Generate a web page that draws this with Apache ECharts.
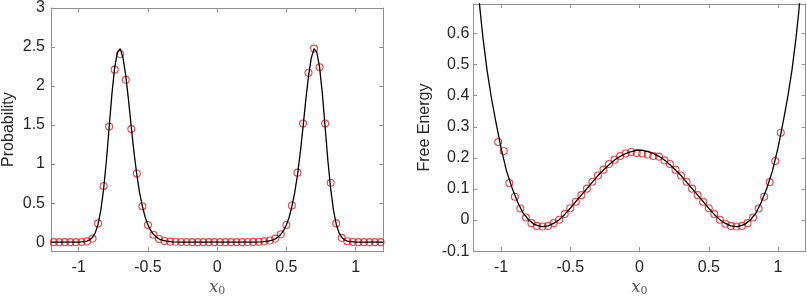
<!DOCTYPE html>
<html>
<head>
<meta charset="utf-8">
<script src="https://cdn.jsdelivr.net/npm/echarts@6/dist/echarts.min.js"></script>
<style>
  html, body { margin: 0; padding: 0; background: #fff; }
  #chart { width: 807px; height: 302px; }
</style>
</head>
<body>
<div id="chart"></div>
<script>
// sampled points (bin centres) for the probability histogram
var probX = [
  -1.18, -1.14, -1.10, -1.06, -1.02, -0.98, -0.94, -0.90, -0.86, -0.82,
  -0.78, -0.74, -0.70, -0.66, -0.62, -0.58, -0.54, -0.50, -0.46, -0.42,
  -0.38, -0.34, -0.30, -0.26, -0.22, -0.18, -0.14, -0.10, -0.06, -0.02,
  0.02, 0.06, 0.10, 0.14, 0.18, 0.22, 0.26, 0.30, 0.34, 0.38,
  0.42, 0.46, 0.50, 0.54, 0.58, 0.62, 0.66, 0.70, 0.74, 0.78,
  0.82, 0.86, 0.90, 0.94, 0.98, 1.02, 1.06, 1.10, 1.14, 1.18
];
var probY = [
  0, 0, 0, 0, 0, 0.002, 0.01, 0.045, 0.24, 0.72,
  1.48, 2.21, 2.41, 2.08, 1.45, 0.88, 0.46, 0.22, 0.095, 0.04,
  0.015, 0.007, 0.004, 0.002, 0.001, 0, 0, 0, 0, 0,
  0, 0, 0, 0, 0, 0.001, 0.003, 0.005, 0.01, 0.02,
  0.045, 0.10, 0.22, 0.47, 0.89, 1.52, 2.17, 2.48, 2.24, 1.52,
  0.76, 0.24, 0.055, 0.012, 0.002, 0, 0, 0, 0, 0
];

// theoretical probability curve
var probLineX = [
  -1.20, -1.00, -0.96, -0.94, -0.92, -0.90, -0.88, -0.86, -0.84, -0.82,
  -0.80, -0.78, -0.76, -0.74, -0.72, -0.70, -0.68, -0.66, -0.64, -0.62,
  -0.60, -0.58, -0.56, -0.54, -0.52, -0.50, -0.48, -0.46, -0.44, -0.42,
  -0.40, -0.36, -0.32, -0.26, 0,
  0.26, 0.32, 0.36, 0.40, 0.42, 0.44, 0.46, 0.48, 0.50, 0.52,
  0.54, 0.56, 0.58, 0.60, 0.62, 0.64, 0.66, 0.68, 0.70, 0.72,
  0.74, 0.76, 0.78, 0.80, 0.82, 0.84, 0.86, 0.88, 0.90, 0.92,
  0.94, 0.96, 1.00, 1.20
];
var probLineY = [
  0, 0.001, 0.006, 0.013, 0.03, 0.06, 0.12, 0.23, 0.41, 0.68,
  1.04, 1.47, 1.90, 2.24, 2.43, 2.48, 2.36, 2.13, 1.82, 1.47,
  1.14, 0.86, 0.63, 0.46, 0.32, 0.22, 0.15, 0.10, 0.065, 0.042,
  0.027, 0.011, 0.004, 0.001, 0,
  0.001, 0.004, 0.011, 0.027, 0.042, 0.065, 0.10, 0.15, 0.22, 0.32,
  0.46, 0.63, 0.86, 1.14, 1.47, 1.82, 2.13, 2.36, 2.48, 2.43,
  2.24, 1.90, 1.47, 1.04, 0.68, 0.41, 0.23, 0.12, 0.06, 0.03,
  0.013, 0.006, 0.001, 0
];

// sampled free energy
var feX = [
  -1.02, -0.98, -0.94, -0.90, -0.86, -0.82, -0.78, -0.74, -0.70, -0.66,
  -0.62, -0.58, -0.54, -0.50, -0.46, -0.42, -0.38, -0.34, -0.30, -0.26,
  -0.22, -0.18, -0.14, -0.10, -0.06, -0.02,
  0.02, 0.06, 0.10, 0.14, 0.18, 0.22, 0.26, 0.30, 0.34, 0.38,
  0.42, 0.46, 0.50, 0.54, 0.58, 0.62, 0.66, 0.70, 0.74, 0.78,
  0.82, 0.86, 0.90, 0.94, 0.98, 1.02
];
var feY = [
  0.251, 0.222, 0.119, 0.075, 0.037, 0.008, -0.010, -0.019, -0.021, -0.019,
  -0.010, 0.001, 0.019, 0.038, 0.059, 0.080, 0.101, 0.123, 0.143, 0.162,
  0.180, 0.194, 0.206, 0.214, 0.219, 0.216,
  0.214, 0.211, 0.206, 0.204, 0.192, 0.180, 0.162, 0.143, 0.123, 0.101,
  0.080, 0.059, 0.038, 0.019, 0.001, -0.012, -0.019, -0.021, -0.019, -0.010,
  0.008, 0.037, 0.075, 0.122, 0.190, 0.281
];

// theoretical free energy curve
var feLineX = [
  -1.17, -1.15, -1.13, -1.10, -1.07, -1.04, -1.00, -0.96, -0.92, -0.88,
  -0.84, -0.80, -0.76, -0.72, -0.70, -0.66, -0.62, -0.58, -0.54, -0.50,
  -0.46, -0.42, -0.38, -0.34, -0.30, -0.26, -0.22, -0.18, -0.14, -0.10,
  -0.06, -0.02, 0,
  0.02, 0.06, 0.10, 0.14, 0.18, 0.22, 0.26, 0.30, 0.34, 0.38,
  0.42, 0.46, 0.50, 0.54, 0.58, 0.62, 0.66, 0.70, 0.72, 0.76,
  0.80, 0.84, 0.88, 0.92, 0.96, 1.00, 1.04, 1.07, 1.10, 1.13,
  1.15, 1.17
];
var feLineY = [
  0.77, 0.67, 0.585, 0.48, 0.395, 0.322, 0.232, 0.158, 0.103, 0.058,
  0.022, 0.000, -0.014, -0.020, -0.021, -0.019, -0.011, 0.001, 0.018, 0.038,
  0.059, 0.080, 0.101, 0.122, 0.143, 0.161, 0.178, 0.193, 0.205, 0.214,
  0.220, 0.224, 0.225,
  0.224, 0.220, 0.214, 0.205, 0.193, 0.178, 0.161, 0.143, 0.122, 0.101,
  0.080, 0.059, 0.038, 0.018, 0.001, -0.011, -0.019, -0.021, -0.020, -0.014,
  0.000, 0.022, 0.058, 0.103, 0.158, 0.232, 0.322, 0.395, 0.48, 0.585,
  0.67, 0.77
];

var xTicks = [-1, -0.5, 0, 0.5, 1];
var probTicks = [0, 0.5, 1, 1.5, 2, 2.5, 3];
var feTicks = [-0.1, 0, 0.1, 0.2, 0.3, 0.4, 0.5, 0.6];

function zip(a, b) {
  var out = [];
  for (var i = 0; i < a.length; i++) out.push([a[i], b[i]]);
  return out;
}

var lineCol = '#8f8f8f';
var textCol = '#262626';
var red = '#e31a1c';

function axis(pos, gridIndex, min, max, ticks, showLabel, margin, extra) {
  var a = {
    type: 'value',
    gridIndex: gridIndex,
    position: pos,
    min: min,
    max: max,
    splitLine: { show: false },
    axisLine: { show: true, onZero: false, lineStyle: { color: lineCol, width: 1 } },
    axisTick: { show: true, inside: true, length: 4, customValues: ticks, lineStyle: { color: lineCol } },
    axisLabel: {
      show: showLabel,
      customValues: ticks,
      margin: margin,
      color: textCol,
      fontSize: 16,
      fontFamily: 'Liberation Sans, Arial, sans-serif'
    }
  };
  for (var k in extra) a[k] = extra[k];
  return a;
}

var xName = {
  name: '{a|x}{b|0}',
  nameLocation: 'middle',
  nameGap: 19,
  nameTextStyle: {
    rich: {
      a: { fontFamily: 'DejaVu Serif', fontStyle: 'italic', fontSize: 16, color: '#555' },
      b: { fontFamily: 'DejaVu Serif', fontSize: 11, color: '#555', padding: [7, 0, 0, 0] }
    }
  }
};

var chart = echarts.init(document.getElementById('chart'), null, { renderer: 'canvas' });
chart.setOption({
  animation: false,
  backgroundColor: '#fff',
  grid: [
    { left: 48.7, top: 6.9, width: 334.6, height: 254.8 },
    { left: 473.3, top: 4, width: 332.4, height: 252.7 }
  ],
  xAxis: [
    axis('bottom', 0, -1.2, 1.2, xTicks, true, 8, xName),
    axis('top', 0, -1.2, 1.2, xTicks, false, 8, {}),
    axis('bottom', 1, -1.2, 1.2, xTicks, true, 8, Object.assign({}, xName, { nameGap: 20 })),
    axis('top', 1, -1.2, 1.2, xTicks, false, 8, {})
  ],
  yAxis: [
    axis('left', 0, -0.115, 3, probTicks, true, 6, {
      name: 'Probability', nameLocation: 'middle', nameGap: 34,
      nameTextStyle: { fontSize: 16, color: textCol, fontFamily: 'Liberation Sans, Arial, sans-serif' }
    }),
    axis('right', 0, -0.115, 3, probTicks, false, 6, {}),
    axis('left', 1, -0.1, 0.695, feTicks, true, 4, {
      name: 'Free Energy', nameLocation: 'middle', nameGap: 41,
      nameTextStyle: { fontSize: 16, color: textCol, fontFamily: 'Liberation Sans, Arial, sans-serif' }
    }),
    axis('right', 1, -0.1, 0.695, feTicks, false, 4, {})
  ],
  series: [
    {
      type: 'line', xAxisIndex: 0, yAxisIndex: 0,
      data: zip(probLineX, probLineY),
      showSymbol: false, clip: true,
      lineStyle: { color: '#000', width: 1.3 }
    },
    {
      type: 'scatter', xAxisIndex: 0, yAxisIndex: 0,
      data: zip(probX, probY),
      symbol: 'circle', symbolSize: 7,
      itemStyle: { color: 'transparent', borderColor: red, borderWidth: 1.1 }
    },
    {
      type: 'line', xAxisIndex: 2, yAxisIndex: 2,
      data: zip(feLineX, feLineY),
      showSymbol: false, clip: true,
      lineStyle: { color: '#000', width: 1.3 }
    },
    {
      type: 'scatter', xAxisIndex: 2, yAxisIndex: 2,
      data: zip(feX, feY),
      symbol: 'circle', symbolSize: 7,
      itemStyle: { color: 'transparent', borderColor: red, borderWidth: 1.1 }
    }
  ]
});
</script>
</body>
</html>
